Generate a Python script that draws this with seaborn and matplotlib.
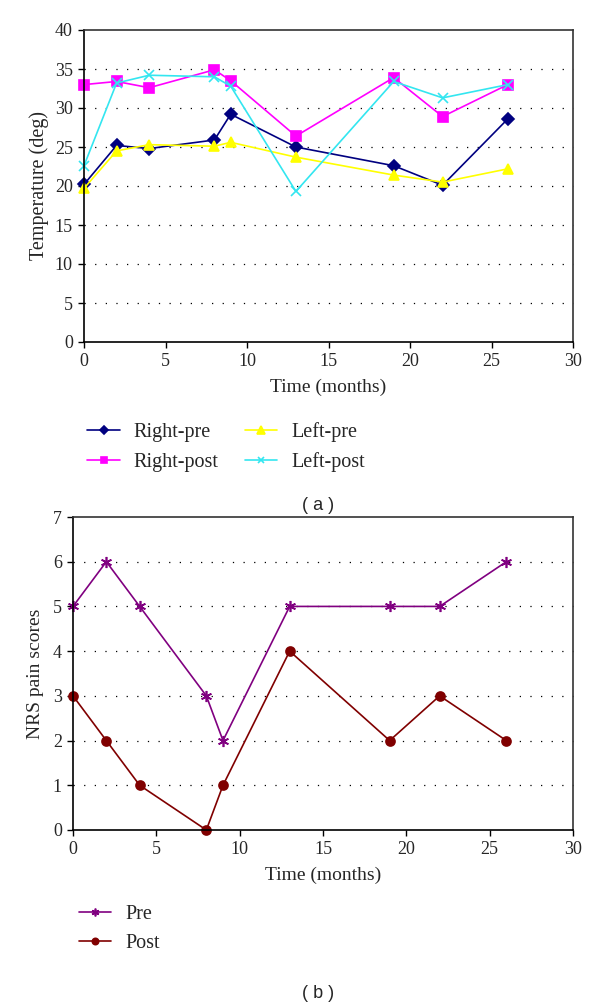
import matplotlib
matplotlib.use("Agg")
import matplotlib.pyplot as plt
import seaborn as sns
import pandas as pd

sns.set_style("white")
plt.rcParams['font.family'] = ['Liberation Serif', 'DejaVu Serif']

months = [0, 2, 4, 8, 9, 13, 19, 22, 26]
right_pre = [20.2, 25.2, 24.8, 25.9, 29.2, 25.0, 22.6, 20.1, 28.6]
right_post = [33.0, 33.4, 32.6, 34.9, 33.5, 26.4, 33.9, 28.9, 33.0]
left_pre = [19.7, 24.5, 25.3, 25.1, 25.6, 23.7, 21.4, 20.5, 22.2]
left_post = [22.6, 33.2, 34.2, 34.0, 32.8, 19.3, 33.4, 31.3, 33.0]

nrs_pre = [5, 6, 5, 3, 2, 5, 5, 5, 6]
nrs_post = [3, 2, 1, 0, 1, 4, 2, 3, 2]

temp_series = {
    "Right-pre": (right_pre, "#000080", "D", 6),
    "Right-post": (right_post, "#FF00FF", "s", 6.5),
    "Left-pre": (left_pre, "#FFFF00", "^", 7.5),
    "Left-post": (left_post, "#33E6F0", "x", 7),
}
nrs_series = {
    "Pre": (nrs_pre, "#800080", (6, 2, 0), 8),
    "Post": (nrs_post, "#800000", "o", 6.5),
}

fig = plt.figure(figsize=(6, 10.08), dpi=100)
ax1 = fig.add_axes([84/600, 1-342/1008, (573-84)/600, (342-30)/1008])
ax2 = fig.add_axes([73/600, 1-830/1008, (573-73)/600, (830-517)/1008])


def style_axes(ax, ymax, ystep):
    ax.set_xlim(0, 30)
    ax.set_ylim(0, ymax)
    ax.set_xticks(range(0, 31, 5))
    ax.set_yticks(range(0, ymax + 1, ystep))
    for y in range(ystep, ymax, ystep):
        ax.axhline(y, color="black", lw=0.9, ls=(0, (1, 7.5)), zorder=0)
    for s in ["left", "bottom"]:
        ax.spines[s].set_color("black")
        ax.spines[s].set_linewidth(1.2)
    for s in ["top", "right"]:
        ax.spines[s].set_color("#333333")
        ax.spines[s].set_linewidth(1.2)
    ax.tick_params(axis="both", direction="out", length=4, width=1.0,
                   labelsize=13, left=True, bottom=True, color="black", pad=4)
    ax.grid(False)
    for ln in ax.get_lines():
        ln.set_clip_on(False)


for name, (vals, col, mk, ms) in temp_series.items():
    df = pd.DataFrame({"x": months, "y": vals})
    sns.lineplot(data=df, x="x", y="y", ax=ax1, color=col, marker=mk,
                 markersize=ms, markeredgecolor=col, markeredgewidth=1.2,
                 lw=1.2, label=name, sort=False)
style_axes(ax1, 40, 5)
ax1.set_xlabel("Time (months)", fontsize=14, labelpad=6)
ax1.set_ylabel("Temperature (deg)", fontsize=14.5, labelpad=4)
h, l = ax1.get_legend_handles_labels()
ax1.legend(h, l, ncol=2, loc="upper left", bbox_to_anchor=(-0.03, -0.2),
           frameon=False, fontsize=14.5, handlelength=1.6, handletextpad=0.7,
           columnspacing=1.3, labelspacing=0.5, markerscale=0.7)

for name, (vals, col, mk, ms) in nrs_series.items():
    df = pd.DataFrame({"x": months, "y": vals})
    sns.lineplot(data=df, x="x", y="y", ax=ax2, color=col, marker=mk,
                 markersize=ms, markeredgecolor=col, markeredgewidth=1.2,
                 lw=1.2, label=name, sort=False)
style_axes(ax2, 7, 1)
ax2.set_xlabel("Time (months)", fontsize=14, labelpad=6)
ax2.set_ylabel("NRS pain scores", fontsize=14, labelpad=6)
h, l = ax2.get_legend_handles_labels()
ax2.legend(h, l, ncol=1, loc="upper left", bbox_to_anchor=(-0.025, -0.18),
           frameon=False, fontsize=14.5, handlelength=1.6, handletextpad=0.7,
           labelspacing=0.5, markerscale=0.7)

fig.text(0.53, 1-505/1008, "( a )", ha="center", va="center", fontsize=13,
         family="Liberation Sans")
fig.text(0.53, 1-993/1008, "( b )", ha="center", va="center", fontsize=13,
         family="Liberation Sans")

fig.savefig("out.png", dpi=100)
